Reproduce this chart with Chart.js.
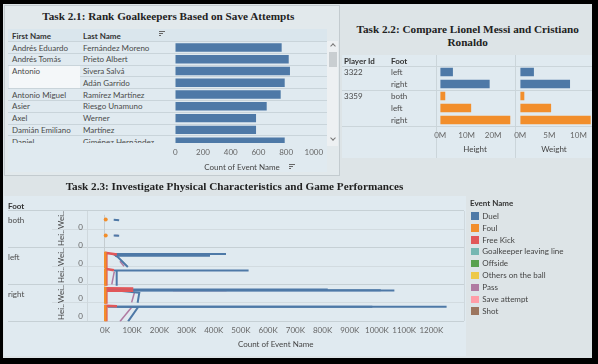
<!DOCTYPE html>
<html><head><meta charset="utf-8">
<script src="https://cdn.jsdelivr.net/npm/chart.js@4.4.1/dist/chart.umd.min.js"></script>
<style>
html,body{margin:0;padding:0}
body{width:598px;height:364px;position:relative;overflow:hidden;background:#000;font-family:Lato,"Noto Sans",sans-serif;}
.a{position:absolute}
.t{position:absolute;white-space:nowrap;font-size:8px;line-height:10px;color:#4a4a4a;transform:translateY(-50%)}
.c{transform:translate(-50%,-50%)}
.h{color:#333;font-weight:700}
.r{transform:translate(-50%,-50%) rotate(-90deg);color:#444}
.ttl{position:absolute;white-space:nowrap;font-family:"Liberation Serif","Times New Roman",serif;font-weight:bold;font-size:11.2px;color:#222;transform:translate(-50%,-50%);line-height:13px}
canvas{position:absolute}
</style></head><body>
<script>
// ---------- DATA ----------
// Task 2.1
const gkFirstNames = ["Andrés Eduardo","Andrés Tomás","Antonio","Antonio","Antonio Miguel","Asier","Axel","Damián Emiliano","Daniel"];
const gkLastNames  = ["Fernández Moreno","Prieto Albert","Sivera Salvá","Adán Garrido","Ramírez Martínez","Riesgo Unamuno","Werner","Martínez","Giménez Hernández"];
const saveAttempts = [768, 819, 828, 790, 761, 660, 583, 583, 790];
const saveTicks    = [0, 200, 400, 600, 800, 1000];
// Task 2.2
const playerIds   = ["3322","3322","3359","3359","3359"];
const playerFoot  = ["left","right","both","left","right"];
const heightM     = [4.8, 18.7, 1.9, 11.7, 26.5];
const weightM     = [2.35, 8.55, 0.7, 5.3, 12.1];
const heightTicks = [0, 10, 20];
const weightTicks = [0, 5, 10];
// Task 2.3
const footGroups = ["both","left","right"];
const measures   = ["Wei..","Hei.."];
const countTicks = [0,100,200,300,400,500,600,700,800,900,1000,1100,1200];
const eventNames  = ["Duel","Foul","Free Kick","Goalkeeper leaving line","Offside","Others on the ball","Pass","Save attempt","Shot"];
const eventColors = ["#4e79a7","#f28e2b","#e15759","#76b7b2","#59a14f","#edc948","#b07aa1","#ff9da7","#9c755f"];
// lines: [panel row index, [[count (K), measure level], ...]]
const foulLines = [
  [0, [[2.6,0.73]]], [1, [[2.6,0.83]]],
  [2, [[1,0.92],[1,0]]], [3, [[1,0.98],[1,0]]],
  [4, [[1,0.95],[1,0]]], [5, [[1,0.92],[1,0]]]
];
const freeKickLines = [
  [2, [[44,0.77],[5,0.85],[5,0]]],
  [3, [[33,0.88],[5,0.95],[5,0]]],
  [4, [[104,0.85],[5,0.86],[5,0]]], [4, [[104,0.72],[5,0.72]]],
  [5, [[44,0.85],[5,0.88],[5,0]]]
];
const duelLines = [
  [0, [[32,0.72],[52,0.69]]], [1, [[32,0.83],[52,0.82]]],
  [2, [[445,0.79],[31,0.80],[49,0.60],[84,0.06]]], [2, [[386,0.69],[37,0.70]]],
  [3, [[528,0.86],[33,0.86]]], [3, [[43,0.83],[43,0]]],
  [4, [[1064,0.74],[8,0.74]]], [4, [[1014,0.75],[8,0.75]]], [4, [[819,0.79],[8,0.79],[126,0.61],[120,0.05]]],
  [5, [[1256,0.82],[44,0.82]]], [5, [[983,0.83],[10,0.83],[122,0.81],[85,0]]]
];
const passLines = [
  [0, [[36,0.71],[48,0.71]]], [1, [[36,0.83],[48,0.83]]],
  [2, [[118,0.76],[37,0.76]]], [2, [[55,0.38],[70,0.11]]],
  [3, [[34,0.79],[25,0.08]]],
  [4, [[447,0.74],[250,0.74]]], [4, [[108,0.61],[98,0.07]]],
  [5, [[98,0.8],[55,0]]]
];
const zeroLevel = 0.29;

// ---------- HELPERS ----------
const F = 'Lato, "Noto Sans", sans-serif';
const body = document.body;
function box(x,y,w,h,bg,extra){const d=document.createElement('div');d.className='a';d.style.cssText=`left:${x}px;top:${y}px;width:${w}px;height:${h}px;background:${bg};${extra||''}`;body.appendChild(d);return d;}
function txt(x,y,s,cls,extra){const d=document.createElement('div');d.className='t '+(cls||'');d.textContent=s;d.style.left=x+'px';d.style.top=y+'px';if(extra)d.style.cssText+=extra;body.appendChild(d);return d;}
function title(x,y,s){const d=document.createElement('div');d.className='ttl';d.textContent=s;d.style.left=x+'px';d.style.top=y+'px';body.appendChild(d);}
function hl(x1,x2,y,c){box(x1,y-0.5,x2-x1,1,c||'#cbd5da');}
function vl(x,y1,y2,c){box(x-0.5,y1,1,y2-y1,c||'#cbd5da');}
function cv(x,y,w,h){const c=document.createElement('canvas');c.width=w;c.height=h;c.style.cssText=`left:${x}px;top:${y}px;width:${w}px;height:${h}px`;body.appendChild(c);return c;}
function sortIcon(x,y){box(x,y,6,1,'#666');box(x,y+2,4,1,'#666');box(x,y+4,2,1,'#666');}
const tickFont = {family:F,size:8};

// ---------- BACKGROUNDS ----------
box(3,4,589,353.5,'#dde4e7');
box(4,5,336,171,'#e2e9ec','border:1px solid #c3cbcf;box-sizing:border-box');
box(8,29,319,143,'#e0eaf0');
box(8,29,319,12.7,'#dae6ed');
box(342,55,250,103,'#e0eaf0');
box(4,196,462,160,'#e0eaf0');

// ---------- TASK 2.1 ----------
title(168.3,15.7,"Task 2.1: Rank Goalkeepers Based on Save Attempts");
txt(12,35.5,"First Name","h");
txt(83,35.5,"Last Name","h");
sortIcon(159,31);
const r0=41.7, pitch=11.76;
for(let i=0;i<gkFirstNames.length;i++){
  if(i>0 && gkFirstNames[i]===gkFirstNames[i-1]){
    box(8.5,r0+(i-1)*pitch+0.5,71.5,2*pitch-1,'#f4f7f9');
  }
}
for(let i=0;i<=gkFirstNames.length;i++){
  const y=r0+i*pitch;
  const merged = i<gkFirstNames.length && i>0 && gkFirstNames[i]===gkFirstNames[i-1];
  hl(merged?80:8,327,y,'#c9d4da');
}
for(let i=0;i<gkFirstNames.length;i++){
  const y=r0+(i+0.5)*pitch;
  if(!(i>0 && gkFirstNames[i]===gkFirstNames[i-1])) txt(12,y,gkFirstNames[i]);
  txt(83,y,gkLastNames[i]);
}
new Chart(cv(170,41,160,118),{
  type:'bar',
  data:{labels:gkLastNames,datasets:[{data:saveAttempts,backgroundColor:'#4e79a7',barPercentage:0.72,categoryPercentage:1}]},
  options:{indexAxis:'y',responsive:false,animation:false,
    plugins:{legend:{display:false},tooltip:{enabled:false}},
    layout:{padding:{left:5.3,right:4.3,top:0.7,bottom:0}},
    scales:{
      y:{display:false},
      x:{min:0,max:1086,afterBuildTicks:s=>{s.ticks=saveTicks.map(v=>({value:v}));},
         grid:{display:false,drawTicks:false},border:{display:false},
         ticks:{padding:0,font:tickFont,color:'#666',maxRotation:0,autoSkip:false,callback:v=>String(v)},
         afterFit:s=>{s.height=11.5;}}
    }}
});
box(8,143,319,4.5,'#e0eaf0');
// scrollbar
box(327,41,11,105,'#edf0f2');
box(328.5,52,8,15,'#c9ced1');
box(330.5,44,3,3,'transparent','border-left:1px solid #777;border-top:1px solid #777;transform:rotate(45deg)');
box(330.5,135.5,3,3,'transparent','border-right:1px solid #777;border-bottom:1px solid #777;transform:rotate(45deg)');
txt(242,167,"Count of Event Name","c","color:#444");
sortIcon(289,164);

// ---------- TASK 2.2 ----------
title(467.7,29,"Task 2.2: Compare Lionel Messi and Cristiano");
title(467.7,42,"Ronaldo");
txt(344,61,"Player Id","h");
txt(391,61,"Foot","h");
const q0=66, qp=12;
for(let i=0;i<playerIds.length;i++){
  const y=q0+(i+0.5)*qp;
  if(i===0||playerIds[i]!==playerIds[i-1]){ txt(344,y,playerIds[i]); hl(342,592,q0+i*qp); }
  txt(391,y,playerFoot[i]);
}
hl(342,592,q0+playerIds.length*qp);
vl(436,55,158); vl(515.5,55,158);
const pColor = id => id===playerIds[0] ? '#4e79a7' : '#f28e2b';
function measureChart(x,w,padL,padR,vals,max,ticks){
  new Chart(cv(x,60,w,90),{
    type:'bar',
    data:{labels:playerFoot,datasets:[{data:vals,backgroundColor:playerIds.map(pColor),barPercentage:0.7,categoryPercentage:1}]},
    options:{indexAxis:'y',responsive:false,animation:false,
      plugins:{legend:{display:false},tooltip:{enabled:false}},
      layout:{padding:{left:padL,right:padR,top:6,bottom:0}},
      scales:{
        y:{display:false},
        x:{min:0,max:max,afterBuildTicks:s=>{s.ticks=ticks.map(v=>({value:v}));},
           grid:{display:false,drawTicks:false},border:{display:false},
           ticks:{padding:4.2,font:tickFont,color:'#666',maxRotation:0,autoSkip:false,callback:v=>v+'M'},
           afterFit:s=>{s.height=24;}}
      }}
  });
}
measureChart(430,86,5.7,1.5,heightM,28.1,heightTicks);
measureChart(510,86,5.7,5,weightM,12.15,weightTicks);
txt(475,149,"Height","c","color:#444");
txt(554,149,"Weight","c","color:#444");

// ---------- TASK 2.3 ----------
title(234.5,185.7,"Task 2.3: Investigate Physical Characteristics and Game Performances");
txt(8,205.7,"Foot","h");
const b0=210.7, bp=18.45;
for(let k=0;k<=6;k++){ hl(k%2===0?8:52,464,b0+k*bp,k%2===0?'#c6d0d5':'#d2dbe0'); }
vl(87.5,b0,b0+6*bp,'#cfd8dd');
vl(464,b0,b0+6*bp,'#cfd8dd');
footGroups.forEach((f,g)=>{
  txt(8,b0+(2*g+0.5)*bp,f);
  measures.forEach((m,j)=>{ txt(60.7,b0+(2*g+j+0.5)*bp,m,'r'); });
});
const series=[["Foul",foulLines,eventColors[1],2.5],["Free Kick",freeKickLines,eventColors[2],2.5],["Duel",duelLines,eventColors[0],2],["Pass",passLines,eventColors[6],1.5]];
const lineSets=[];
series.forEach(([name,lines,col,w])=>lines.forEach(([k,pts])=>lineSets.push({
  label:name,data:pts.map(([x,v])=>({x:x,y:5-k+v})),borderColor:col,backgroundColor:col,
  borderWidth:w,showLine:true,pointRadius:pts.length===1?2:0,pointBorderWidth:0,tension:0})));
new Chart(cv(70,205,400,131),{
  type:'scatter',
  data:{datasets:lineSets},
  options:{responsive:false,animation:false,
    plugins:{legend:{display:false},tooltip:{enabled:false}},
    layout:{padding:{left:6,right:6,top:5.7,bottom:0.6}},
    scales:{
      x:{type:'linear',min:-62.5,max:1320,afterBuildTicks:s=>{s.ticks=countTicks.map(v=>({value:v}));},
         ticks:{padding:3.8,font:tickFont,color:'#666',maxRotation:0,autoSkip:false,callback:v=>v+'K'},
         grid:{drawTicks:false,color:c=>(c.tick&&c.tick.value===0)?'#c4ccd0':'rgba(0,0,0,0)'},
         border:{display:false},afterFit:s=>{s.height=14;}},
      y:{type:'linear',min:0,max:6,afterBuildTicks:s=>{s.ticks=[0,1,2,3,4,5].map(k=>({value:k+zeroLevel}));},
         ticks:{padding:5,font:tickFont,color:'#666',autoSkip:false,callback:()=>'0'},
         grid:{display:false,drawTicks:false},border:{display:false},afterFit:s=>{s.width=12;}}
    }}
});
txt(275.7,344.3,"Count of Event Name","c","color:#444");
// legend
txt(470,203.3,"Event Name","h");
eventNames.forEach((n,i)=>{
  const y=215.7+i*11.9;
  box(471,y-3.5,8,7.5,eventColors[i]);
  txt(482.3,y,n,'',"color:#444");
});
</script>
</body></html>
